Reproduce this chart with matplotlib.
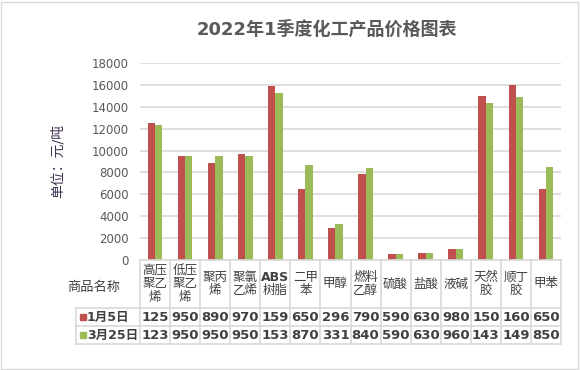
import numpy as np
import matplotlib.pyplot as plt
from matplotlib.patches import Rectangle

plt.rcParams['font.family'] = ['DejaVu Sans', 'Noto Sans CJK SC']

# chart data
title = '2022年1季度化工产品价格图表'
y_label = '单位：元/吨'
row_header = '商品名称'
products = ['高压\n聚乙\n烯', '低压\n聚乙\n烯', '聚丙\n烯', '聚氯\n乙烯', 'ABS\n树脂', '二甲\n苯',
            '甲醇', '燃料\n乙醇', '硫酸', '盐酸', '液碱', '天然\n胶', '顺丁\n胶', '甲苯']
series_names = ['1月5日', '3月25日']
jan5 = [12500, 9500, 8900, 9700, 15900, 6500, 2960, 7900, 590, 630, 980, 15000, 16000, 6500]
mar25 = [12300, 9500, 9500, 9500, 15300, 8700, 3310, 8400, 590, 630, 960, 14300, 14900, 8500]
colors = ['#C0504D', '#9BBB59']

W, H = 580, 370
fig = plt.figure(figsize=(W / 100, H / 100), dpi=100)

# outer chart frame
fig.add_artist(Rectangle((1 / W, 1 / H), (W - 3) / W, (H - 3) / H, transform=fig.transFigure,
                         fill=False, ec='#D9D9D9', lw=1))

# plot area (pixels)
px_left, px_right, px_top, px_bottom = 140, 561, 63, 260
ax = fig.add_axes([px_left / W, 1 - px_bottom / H, (px_right - px_left) / W, (px_bottom - px_top) / H])

n = len(products)
x = np.arange(n)
bw = 0.245
ax.bar(x - bw / 2, jan5, bw, color=colors[0], zorder=3)
ax.bar(x + bw / 2, mar25, bw, color=colors[1], zorder=3)
ax.set_xlim(-0.5, n - 0.5)
ax.set_ylim(0, 18000)
ax.set_yticks(range(0, 18001, 2000))
ax.set_xticks([])
ax.yaxis.grid(True, color='#D9D9D9', lw=1.2, zorder=0)
for s in ax.spines.values():
    s.set_visible(False)
ax.tick_params(axis='y', length=0, pad=8, labelsize=8.5, labelcolor='#595959')

fig.text(58 / W, 1 - 161 / H, y_label, rotation=90, ha='center', va='center',
         fontsize=10, color='#403151')
fig.text(327 / W, 1 - 30 / H, title, ha='center', va='center', fontsize=13,
         fontweight='bold', color='#595959')

# data table under the plot, drawn in pixel coordinates
tb = fig.add_axes([0, 0, 1, 1])
tb.set_xlim(0, W)
tb.set_ylim(H, 0)
tb.axis('off')
tb.patch.set_visible(False)

line_c = '#D9D9D9'
leg_left = 76
cw = (px_right - px_left) / n
rows = [px_bottom, 308, 326, 344]
edges = [px_left + i * cw for i in range(n + 1)]

tb.plot([px_left, px_right], [rows[0], rows[0]], color=line_c, lw=1.2)
for r in rows[1:]:
    tb.plot([leg_left, px_right], [r, r], color=line_c, lw=1.2)
tb.plot([leg_left, leg_left], [rows[1], rows[3]], color=line_c, lw=1.2)
for e in edges:
    tb.plot([e, e], [rows[0], rows[3]], color=line_c, lw=1.2)

tb.text(94, 288, row_header, ha='center', va='center', fontsize=9.5, color='#404040')

line_h = 13.3
for i, name in enumerate(products):
    cx = px_left + (i + 0.5) * cw
    parts = name.split('\n')
    cy = (rows[0] + rows[1]) / 2
    for k, part in enumerate(parts):
        tb.text(cx, cy + (k - (len(parts) - 1) / 2) * line_h, part, ha='center', va='center',
                fontsize=9, color='#404040',
                fontweight='bold' if part.isascii() else 'normal')
    for j, vals in enumerate([jan5, mar25]):
        tb.text(cx, (rows[j + 1] + rows[j + 2]) / 2 + 0.5, str(vals[i])[:3], ha='center', va='center',
                fontsize=9.5, fontweight='bold', color='#404040')

for j, sname in enumerate(series_names):
    cy = (rows[j + 1] + rows[j + 2]) / 2
    tb.add_patch(Rectangle((80, cy - 3), 5.5, 5.5, color=colors[j]))
    tb.text(87, cy + 0.5, sname, ha='left', va='center', fontsize=9, fontweight='bold',
            color='#404040')

fig.savefig('out.png', dpi=100)
